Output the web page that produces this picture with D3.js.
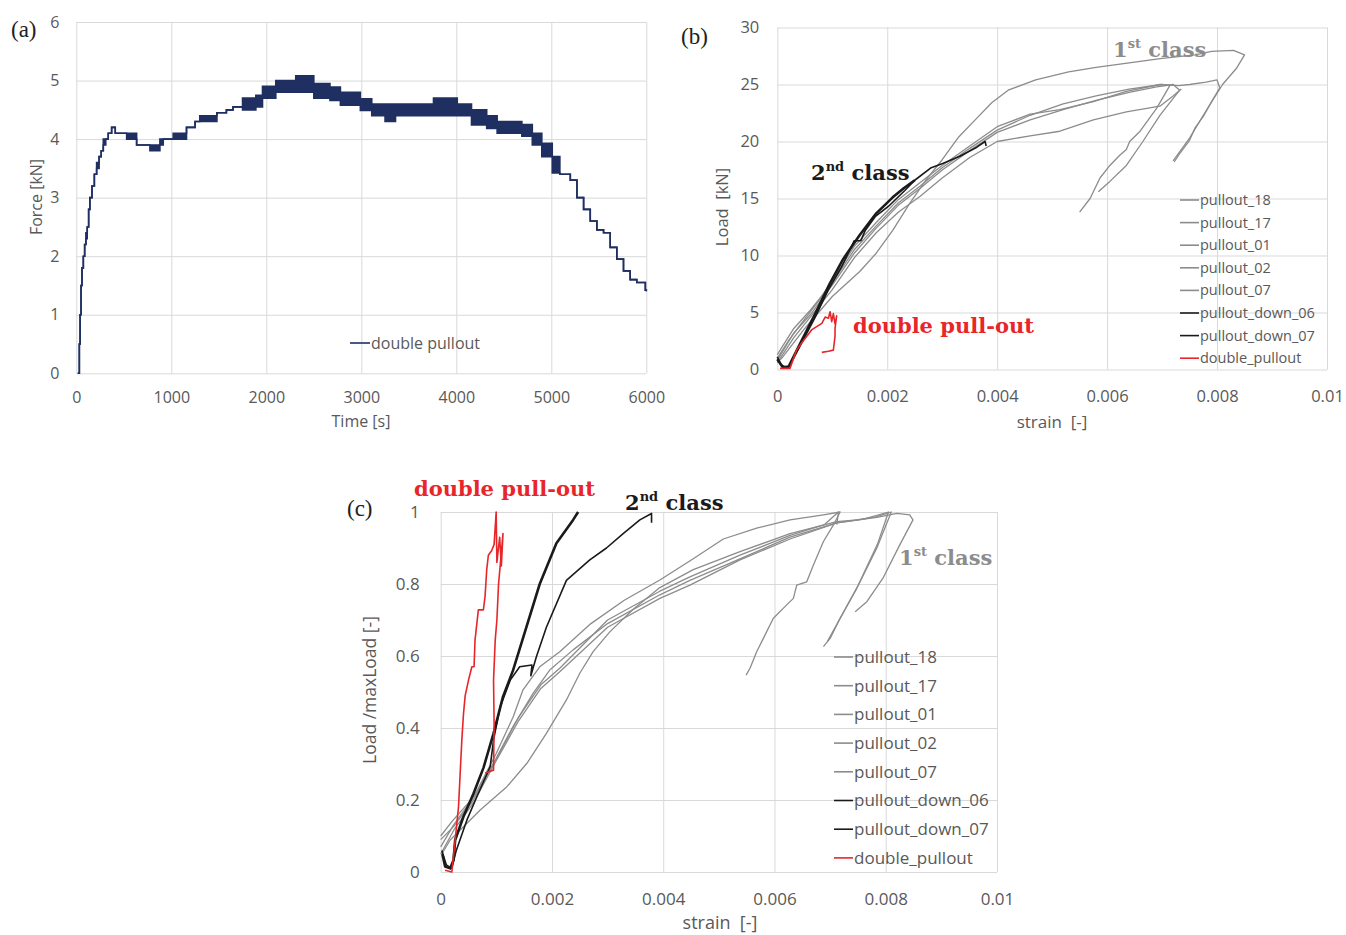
<!DOCTYPE html>
<html><head><meta charset="utf-8">
<script src="https://cdn.jsdelivr.net/npm/d3@7"></script>
<style>body{margin:0;background:#fff}svg{display:block}</style>
</head><body><svg id="chart" width="1346" height="935"></svg>
<script>
// ---------- DATA ----------
// Panel (a): double pullout, force vs time (lower / upper envelope of the noisy record)
const aTime = [15,25,32,40,50,60,74,88,101,115,130,143,165,190,214,240,262,284,310,336,372,410,530,635,775,880,915,1020,1160,1250,1300,1480,1580,1650,1750,1890,1960,2100,2310,2500,2670,2780,2990,3110,3250,3360,3760,4010,4160,4320,4430,4690,4800,4900,5010,5090,5200,5270,5340,5410,5480,5550,5620,5690,5760,5830,5900,5990,6000];
const aForceLow = [0,0,0.5,1.0,1.5,1.8,2.0,2.2,2.3,2.5,2.8,3.0,3.2,3.4,3.5,3.7,3.8,3.9,4.0,4.1,4.2,4.1,4.0,3.9,3.8,3.9,4.0,4.0,4.2,4.3,4.3,4.45,4.5,4.55,4.5,4.55,4.7,4.8,4.8,4.7,4.66,4.58,4.49,4.4,4.3,4.4,4.4,4.4,4.24,4.18,4.1,4.05,3.9,3.7,3.42,3.4,3.3,3.0,2.8,2.6,2.45,2.4,2.15,1.95,1.75,1.6,1.55,1.42,1.4];
const aForceHigh = [0,0,0.5,1.0,1.5,1.8,2.0,2.2,2.4,2.5,2.8,3.0,3.2,3.4,3.6,3.7,3.8,4.0,4.0,4.1,4.2,4.1,4.1,3.9,3.9,4.0,4.0,4.1,4.2,4.3,4.4,4.45,4.5,4.55,4.7,4.75,4.9,5.0,5.08,4.95,4.89,4.8,4.69,4.6,4.6,4.6,4.7,4.6,4.5,4.4,4.3,4.25,4.1,3.93,3.7,3.4,3.3,3.0,2.8,2.6,2.45,2.4,2.15,1.95,1.75,1.6,1.55,1.42,1.4];
const aSeriesName = "double pullout";

// Ticks
const aXTicks = [0,1000,2000,3000,4000,5000,6000];
const aYTicks = [0,1,2,3,4,5,6];
const strainTicks = [0,0.002,0.004,0.006,0.008,0.01];
const strainTickLabels = ["0","0.002","0.004","0.006","0.008","0.01"];
const bYTicks = [0,5,10,15,20,25,30];
const cYTicks = [0,0.2,0.4,0.6,0.8,1];
const cYTickLabels = ["0","0.2","0.4","0.6","0.8","1"];

const seriesNames = ["pullout_18","pullout_17","pullout_01","pullout_02","pullout_07","pullout_down_06","pullout_down_07","double_pullout"];

// Panel (b): [strain, load kN]
const b_pullout_18 = [[0,0.6],[0.0001,1.1],[0.0005,3.6],[0.001,6.4],[0.0015,8.6],[0.0018,10.2],[0.0021,12.2],[0.0024,14.5],[0.0027,16.6],[0.003,18.4],[0.0033,20.4],[0.0036,21.9],[0.0039,23.4],[0.0042,24.5],[0.0047,25.4],[0.0053,26.1],[0.0058,26.5],[0.0064,26.9],[0.007,27.3],[0.0076,27.6],[0.0079,27.9],[0.0083,28.0],[0.0085,27.6],[0.00835,26.4],[0.0081,25.0],[0.00775,22.3],[0.0075,20.3],[0.0072,18.3]];
const b_pullout_17 = [[0,1.0],[0.0002,2.5],[0.0004,3.8],[0.00075,6.0],[0.001,7.8],[0.0014,10.8],[0.0018,12.9],[0.0022,14.9],[0.0026,16.4],[0.003,17.9],[0.0035,19.6],[0.004,21.3],[0.0046,22.4],[0.00514,22.8],[0.00575,23.5],[0.00635,24.4],[0.00696,25.0],[0.0073,24.9],[0.0075,25.0],[0.0078,25.2],[0.008,25.4],[0.00805,24.7],[0.0079,23.5],[0.00775,22.2],[0.0076,21.2],[0.0075,20.1],[0.0073,18.8],[0.00722,18.2]];
const b_pullout_01 = [[0,0.8],[0.0003,3.2],[0.0006,4.8],[0.001,7.4],[0.0014,10.2],[0.0018,12.4],[0.0022,14.4],[0.0026,15.9],[0.003,17.5],[0.0035,19.2],[0.004,20.8],[0.0046,21.9],[0.0052,22.8],[0.0058,23.6],[0.0064,24.3],[0.0069,24.8],[0.0072,25.0],[0.00732,24.5],[0.00696,22.3],[0.00665,20.0],[0.00635,17.9],[0.00605,16.5],[0.00584,15.6]];
const b_pullout_02 = [[0,1.3],[0.0003,3.6],[0.0006,5.2],[0.001,7.6],[0.0014,10.5],[0.0018,12.6],[0.0022,14.6],[0.0026,16.1],[0.003,17.7],[0.0035,19.4],[0.004,21.0],[0.0046,22.3],[0.0052,23.3],[0.0058,24.0],[0.0064,24.6],[0.007,25.0],[0.00714,24.9],[0.0069,22.9],[0.0066,20.9],[0.00641,20.0],[0.00635,19.3],[0.00623,18.8],[0.00605,17.9],[0.00587,16.8],[0.00569,15.0],[0.0055,13.8]];
const b_pullout_07 = [[0,0.6],[0.0003,2.8],[0.0006,4.6],[0.001,7.0],[0.0014,9.8],[0.0018,12.0],[0.0022,13.8],[0.0026,15.2],[0.003,16.8],[0.0035,18.6],[0.004,20.0],[0.0046,20.5],[0.00514,20.9],[0.00575,21.9],[0.00635,22.6],[0.00696,23.1],[0.0072,24.0],[0.00735,24.6]];
const b_pullout_down_06 = [[0,1.1],[0.00007,0.4],[0.00014,0.25],[0.00022,0.3],[0.00044,2.3],[0.00069,4.6],[0.00093,7.0],[0.00117,9.0],[0.00135,10.8],[0.0014,11.3],[0.00152,11.3],[0.0016,12.2],[0.00178,13.4],[0.00202,14.3],[0.00232,15.7],[0.0025,16.6],[0.0028,17.7],[0.00302,18.1],[0.00332,18.7],[0.00363,19.5],[0.00378,20.0],[0.0038,19.6]];
const b_pullout_down_07 = [[0,0.9],[0.0001,0.2],[0.0002,0.2],[0.00045,2.6],[0.0007,5.0],[0.00095,7.5],[0.0012,9.7],[0.0015,11.8],[0.0018,13.7],[0.0021,15.1],[0.0023,15.9],[0.0025,16.6]];
const b_double_pullout = [[0.00005,0.1],[0.00023,0.1],[0.00035,1.7],[0.00044,2.3],[0.00063,3.5],[0.00081,4.05],[0.00087,4.6],[0.00093,4.5],[0.00096,5.07],[0.00099,4.2],[0.00102,4.9],[0.00105,4.0],[0.00108,4.7],[0.00105,3.6],[0.00105,2.9],[0.00102,1.7],[0.00093,1.6],[0.00081,1.5]];

// Panel (c): [strain, load/maxLoad]
const c_pullout_18 = [[0.00002,0.05],[0.00017,0.089],[0.00071,0.172],[0.00119,0.237],[0.00155,0.302],[0.0019,0.385],[0.00226,0.478],[0.0025,0.552],[0.00274,0.612],[0.00304,0.667],[0.00346,0.73],[0.00394,0.79],[0.00454,0.84],[0.00538,0.89],[0.00628,0.94],[0.00712,0.973],[0.00748,0.978],[0.00784,0.987],[0.00802,0.996],[0.0081,1.0],[0.00784,0.9],[0.00748,0.788],[0.00718,0.705],[0.007,0.649],[0.00688,0.626]];
const c_pullout_17 = [[0,0.07],[0.00023,0.13],[0.0006,0.21],[0.001,0.33],[0.0013,0.43],[0.00148,0.506],[0.00178,0.57],[0.00214,0.612],[0.0027,0.69],[0.0033,0.755],[0.00394,0.811],[0.00454,0.87],[0.00508,0.925],[0.00568,0.955],[0.00628,0.978],[0.00688,0.992],[0.00718,1.0],[0.00706,0.964],[0.00688,0.918],[0.0067,0.853],[0.00658,0.806],[0.0064,0.797],[0.00634,0.76],[0.00622,0.742],[0.00598,0.705],[0.0058,0.649],[0.00568,0.612],[0.00556,0.566],[0.00549,0.547]];
const c_pullout_01 = [[0,0.09],[0.00023,0.126],[0.00059,0.2],[0.00095,0.302],[0.0013,0.404],[0.00166,0.496],[0.00196,0.561],[0.00238,0.617],[0.003,0.69],[0.00394,0.77],[0.00448,0.81],[0.00538,0.87],[0.00628,0.93],[0.00712,0.97],[0.00784,0.985],[0.0082,0.996],[0.00843,0.992],[0.00849,0.978],[0.00825,0.908],[0.00795,0.816],[0.00766,0.751],[0.00745,0.723]];
const c_pullout_02 = [[0,0.05],[0.00025,0.12],[0.0006,0.195],[0.001,0.31],[0.0014,0.42],[0.0018,0.51],[0.00214,0.556],[0.003,0.68],[0.00394,0.76],[0.00448,0.797],[0.00538,0.867],[0.00628,0.925],[0.00712,0.97],[0.0076,0.98],[0.00805,1.0],[0.00785,0.91],[0.0075,0.795],[0.0072,0.71],[0.00695,0.64]];
const c_pullout_07 = [[0,0.1],[0.0002,0.14],[0.0006,0.21],[0.001,0.315],[0.0014,0.43],[0.0018,0.52],[0.00214,0.566],[0.003,0.7],[0.00394,0.78],[0.00448,0.82],[0.00538,0.88],[0.00628,0.935],[0.0069,0.965],[0.00715,1.0],[0.00712,0.965]];
const c_pullout_down_06 = [[0.00002,0.06],[0.0001,0.02],[0.0002,0.01],[0.00028,0.06],[0.00047,0.144],[0.00065,0.209],[0.00089,0.293],[0.00095,0.367],[0.00107,0.459],[0.00125,0.533],[0.00142,0.57],[0.00164,0.575],[0.00162,0.545],[0.00172,0.598],[0.0019,0.68],[0.00226,0.81],[0.00268,0.867],[0.00298,0.9],[0.00328,0.94],[0.00358,0.978],[0.00379,0.996],[0.00379,0.97]];
const c_pullout_down_07 = [[0.00003,0.05],[0.00008,0.015],[0.00017,0.01],[0.00023,0.033],[0.00026,0.089],[0.00041,0.154],[0.00059,0.218],[0.00077,0.29],[0.00095,0.385],[0.00112,0.487],[0.0013,0.56],[0.00146,0.64],[0.00178,0.8],[0.00208,0.913],[0.00238,0.978],[0.00247,1.0]];
const c_double_pullout = [[0.00008,0.005],[0.0002,0],[0.00026,0.089],[0.00032,0.18],[0.00035,0.274],[0.00038,0.367],[0.00041,0.44],[0.00044,0.49],[0.0005,0.533],[0.00056,0.57],[0.0006,0.57],[0.000617,0.644],[0.000677,0.728],[0.000767,0.728],[0.000797,0.765],[0.000827,0.839],[0.000857,0.88],[0.000917,0.893],[0.00096,0.91],[0.000997,1.0],[0.00101,0.86],[0.00106,0.93],[0.00109,0.85],[0.00112,0.94],[0.00104,0.8],[0.00101,0.7],[0.00098,0.644],[0.00095,0.533],[0.00096,0.413],[0.00095,0.283],[0.0008,0.275]];

const bData = {pullout_18:b_pullout_18,pullout_17:b_pullout_17,pullout_01:b_pullout_01,pullout_02:b_pullout_02,pullout_07:b_pullout_07,pullout_down_06:b_pullout_down_06,pullout_down_07:b_pullout_down_07,double_pullout:b_double_pullout};
const cData = {pullout_18:c_pullout_18,pullout_17:c_pullout_17,pullout_01:c_pullout_01,pullout_02:c_pullout_02,pullout_07:c_pullout_07,pullout_down_06:c_pullout_down_06,pullout_down_07:c_pullout_down_07,double_pullout:c_double_pullout};

// ---------- STYLE ----------
const GRID = "#d9d9d9", TICK = "#595959", SANS = "'Open Sans', sans-serif", SERIF = "'DejaVu Serif', serif";
const GRAY = "#8c8c8c", BLACK = "#1a1a1a", RED = "#e8262a", NAVY = "#1f2f62";
const colorOf = n => n === "double_pullout" ? RED : (n.startsWith("pullout_down") ? BLACK : GRAY);

const svg = d3.select("#chart");

function frame(xs, ys, xTicks, xLabels, yTicks, yLabels, fs, xPad, yPad) {
  const g = svg.append("g");
  const [xa, xb] = xs.range(), [ya, yb] = ys.range();
  g.append("g").attr("transform", `translate(0,${ya})`)
    .call(d3.axisBottom(xs).tickValues(xTicks).tickSize(-(ya - yb)).tickFormat(""))
    .call(s => { s.select(".domain").remove(); s.selectAll("line").attr("stroke", GRID); });
  g.append("g").attr("transform", `translate(${xa},0)`)
    .call(d3.axisLeft(ys).tickValues(yTicks).tickSize(-(xb - xa)).tickFormat(""))
    .call(s => { s.select(".domain").remove(); s.selectAll("line").attr("stroke", GRID); });
  g.append("g").attr("transform", `translate(0,${ya})`)
    .call(d3.axisBottom(xs).tickValues(xTicks).tickSize(0).tickPadding(xPad).tickFormat((d, i) => xLabels[i]))
    .call(s => { s.select(".domain").remove(); s.selectAll("text").attr("fill", TICK).style("font", `${fs}px ${SANS}`); });
  g.append("g").attr("transform", `translate(${xa},0)`)
    .call(d3.axisLeft(ys).tickValues(yTicks).tickSize(0).tickPadding(yPad).tickFormat((d, i) => yLabels[i]))
    .call(s => { s.select(".domain").remove(); s.selectAll("text").attr("fill", TICK).style("font", `${fs}px ${SANS}`); });
  return g;
}
function title(x, y, txt, fs, rot) {
  svg.append("text").attr("transform", `translate(${x},${y})` + (rot ? " rotate(-90)" : ""))
    .attr("text-anchor", "middle").attr("fill", TICK).style("font", `${fs}px ${SANS}`).text(txt);
}
function tag(x, y, txt) {
  svg.append("text").attr("x", x).attr("y", y).attr("fill", "#222").style("font", `23px 'Liberation Serif', serif`).text(txt);
}
function annot(x, y, base, sup, rest, color, fs) {
  const t = svg.append("text").attr("x", x).attr("y", y).attr("fill", color)
    .style("font-family", SERIF).style("font-weight", "bold").style("font-size", fs + "px");
  t.append("tspan").text(base);
  if (sup) {
    t.append("tspan").attr("dy", -fs * 0.42).style("font-size", (fs * 0.62) + "px").text(sup);
    t.append("tspan").attr("dy", fs * 0.42).text(rest);
  }
}
function legend(x, y0, dy, fs) {
  seriesNames.forEach((n, i) => {
    const y = y0 + i * dy;
    svg.append("line").attr("x1", x).attr("x2", x + 19).attr("y1", y).attr("y2", y)
      .attr("stroke", colorOf(n)).attr("stroke-width", 1.6);
    svg.append("text").attr("x", x + 20).attr("y", y).attr("dy", "0.35em").attr("fill", TICK)
      .style("font", `${fs}px ${SANS}`).text(n);
  });
}
function drawSeries(xs, ys, data, thickName) {
  const line = d3.line().x(d => xs(d[0])).y(d => ys(d[1]));
  const order = seriesNames.filter(n => colorOf(n) === GRAY)
    .concat(seriesNames.filter(n => colorOf(n) === BLACK), ["double_pullout"]);
  order.forEach(n => {
    svg.append("path").attr("d", line(data[n])).attr("fill", "none")
      .attr("stroke", colorOf(n)).attr("stroke-linejoin", "round")
      .attr("stroke-width", n === thickName ? 2.6 : (colorOf(n) === GRAY ? 1.3 : 1.6));
  });
}

// ---------- PANEL (a) ----------
const xA = d3.scaleLinear([0, 6000], [76.3, 646.3]);
const yA = d3.scaleLinear([0, 6], [373.3, 22]);
frame(xA, yA, aXTicks, aXTicks.map(String), aYTicks, aYTicks.map(String), 16, 18.5, 17);
const idx = d3.range(aTime.length);
svg.append("path").attr("d", d3.area().curve(d3.curveStepAfter).x(i => xA(aTime[i]))
  .y0(i => yA(aForceLow[i])).y1(i => yA(aForceHigh[i]))(idx)).attr("fill", NAVY);
[aForceLow, aForceHigh].forEach(arr => {
  svg.append("path").attr("d", d3.line().curve(d3.curveStepAfter).x(i => xA(aTime[i])).y(i => yA(arr[i]))(idx))
    .attr("fill", "none").attr("stroke", NAVY).attr("stroke-width", 1.6);
});
svg.append("line").attr("x1", 350).attr("x2", 370).attr("y1", 343).attr("y2", 343).attr("stroke", NAVY).attr("stroke-width", 1.6);
svg.append("text").attr("x", 371).attr("y", 343).attr("dy", "0.35em").attr("fill", TICK).style("font", `16px ${SANS}`).text(aSeriesName);
title(361, 427, "Time [s]", 16, false);
title(42, 197, "Force [kN]", 16, true);
tag(11, 37, "(a)");

// ---------- PANEL (b) ----------
const xB = d3.scaleLinear([0, 0.01], [777.3, 1327]);
const yB = d3.scaleLinear([0, 30], [369.5, 27.5]);
frame(xB, yB, strainTicks, strainTickLabels, bYTicks, bYTicks.map(String), 16.5, 20.5, 18);
drawSeries(xB, yB, bData, "pullout_down_07");
legend(1180, 200, 22.6, 14.5);
title(1052, 428, "strain\u00a0 [-]", 17, false);
title(728, 207, "Load\u00a0 [kN]", 16.5, true);
tag(681, 44, "(b)");
annot(1113, 57, "1", "st", " class", GRAY, 21);
annot(811, 180, "2", "nd", " class", BLACK, 21);
annot(853, 333, "double pull-out", null, null, RED, 21);

// ---------- PANEL (c) ----------
const xC = d3.scaleLinear([0, 0.01], [440.7, 997]);
const yC = d3.scaleLinear([0, 1], [872, 512]);
frame(xC, yC, strainTicks, strainTickLabels, cYTicks, cYTickLabels, 17, 21, 21);
drawSeries(xC, yC, cData, "pullout_down_07");
legend(834, 657, 28.7, 17);
title(720, 929, "strain\u00a0 [-]", 18, false);
title(376, 690, "Load /maxLoad [-]", 17.5, true);
tag(347, 516, "(c)");
annot(414, 496, "double pull-out", null, null, RED, 21);
annot(625, 510, "2", "nd", " class", BLACK, 21);
annot(899, 565, "1", "st", " class", GRAY, 21);
</script></body></html>
